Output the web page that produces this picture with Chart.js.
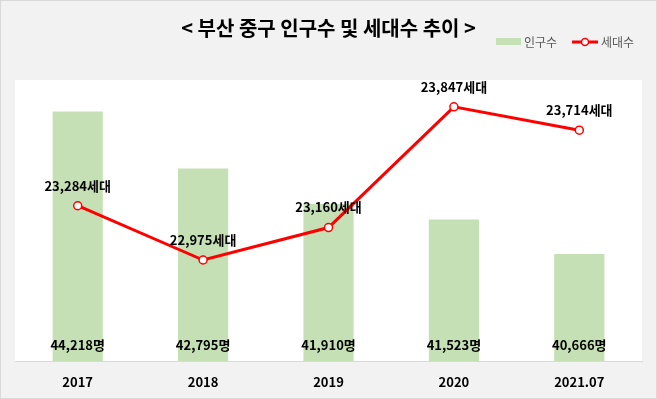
<!DOCTYPE html>
<html>
<head>
<meta charset="utf-8">
<script src="https://cdn.jsdelivr.net/npm/chart.js@4"></script>
<style>
  html, body { margin: 0; padding: 0; background: #f2f2f2; }
  canvas { display: block; }
</style>
</head>
<body>
<canvas id="popChart" width="657" height="399"></canvas>
<script>
const years = ["2017", "2018", "2019", "2020", "2021.07"];
const population = [44218, 42795, 41910, 41523, 40666];
const households = [23284, 22975, 23160, 23847, 23714];

const FONT = "'Noto Sans CJK KR', 'Noto Sans', sans-serif";

// background, white plot area and border like the Excel chart
const backdrop = {
  id: "backdrop",
  beforeDraw(chart) {
    const { ctx, chartArea: a, width, height } = chart;
    ctx.save();
    ctx.fillStyle = "#f2f2f2";
    ctx.fillRect(0, 0, width, height);
    ctx.fillStyle = "#ffffff";
    ctx.fillRect(a.left, a.top, a.right - a.left, a.bottom - a.top);
    ctx.strokeStyle = "#d9d9d9";
    ctx.lineWidth = 1;
    ctx.strokeRect(0.5, 0.5, width - 1, height - 1);
    ctx.restore();
  }
};

// value labels: population at bar base, households above points
const valueLabels = {
  id: "valueLabels",
  afterDatasetsDraw(chart) {
    const ctx = chart.ctx;
    ctx.save();
    ctx.fillStyle = "#000";
    ctx.font = "bold 13px " + FONT;
    ctx.textAlign = "center";
    ctx.textBaseline = "middle";
    const bars = chart.getDatasetMeta(1).data;
    bars.forEach((el, i) => {
      ctx.fillText(population[i].toLocaleString("en-US") + "명", el.x, chart.chartArea.bottom - 16);
    });
    const pts = chart.getDatasetMeta(0).data;
    pts.forEach((el, i) => {
      ctx.fillText(households[i].toLocaleString("en-US") + "세대", el.x, el.y - 20);
    });
    ctx.restore();
  }
};

// legend at the top right
const legendBox = {
  id: "legendBox",
  afterDraw(chart) {
    const ctx = chart.ctx;
    const y = 42;
    ctx.save();
    ctx.font = "12px " + FONT;
    ctx.textBaseline = "middle";
    ctx.fillStyle = "#c5e0b4";
    ctx.fillRect(496, y - 4, 25, 7);
    ctx.fillStyle = "#595959";
    ctx.fillText("인구수", 524, y);
    ctx.strokeStyle = "#ff0000";
    ctx.lineWidth = 3;
    ctx.beginPath();
    ctx.moveTo(572, y);
    ctx.lineTo(598, y);
    ctx.stroke();
    ctx.beginPath();
    ctx.arc(585, y, 3.5, 0, Math.PI * 2);
    ctx.fillStyle = "#fff";
    ctx.fill();
    ctx.lineWidth = 1.5;
    ctx.stroke();
    ctx.fillStyle = "#595959";
    ctx.fillText("세대수", 601, y);
    ctx.restore();
  }
};

const data = {
  labels: years,
  datasets: [
    {
      type: "line",
      label: "세대수",
      data: households,
      yAxisID: "y1",
      borderColor: "#ff0000",
      borderWidth: 3,
      pointRadius: 4,
      pointBorderWidth: 1.5,
      pointBackgroundColor: "#ffffff",
      pointBorderColor: "#ff0000",
      tension: 0,
      order: 0
    },
    {
      type: "bar",
      label: "인구수",
      data: population,
      yAxisID: "y",
      backgroundColor: "#c5e0b4",
      categoryPercentage: 1,
      barPercentage: 0.4,
      order: 1
    }
  ]
};

const config = {
  data: data,
  options: {
    responsive: false,
    animation: false,
    layout: { padding: { left: 15, right: 15, top: 0, bottom: 0 } },
    plugins: {
      legend: { display: false },
      tooltip: { enabled: false },
      title: {
        display: true,
        text: "< 부산 중구 인구수 및 세대수 추이 >",
        color: "#000",
        font: { family: FONT, size: 20, weight: "bold" },
        padding: { top: 16, bottom: 40 }
      }
    },
    scales: {
      x: {
        grid: { display: false, drawTicks: false },
        border: { color: "#d9d9d9", width: 1 },
        afterFit(scale) { scale.height = 38; },
        ticks: {
          color: "#000",
          padding: 13,
          font: { family: FONT, size: 13, weight: "bold" }
        }
      },
      y: { display: false, min: 38000, max: 45000 },
      y1: { display: false, position: "right", min: 22400, max: 24000 }
    }
  },
  plugins: [backdrop, valueLabels, legendBox]
};

const ctx = document.getElementById("popChart");
new Chart(ctx, config);
</script>
</body>
</html>
